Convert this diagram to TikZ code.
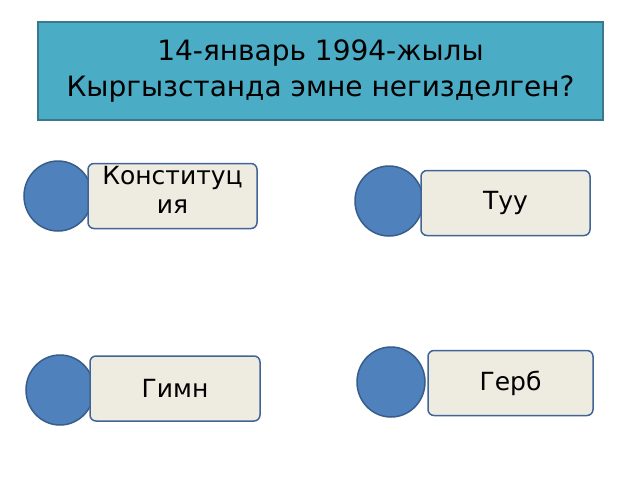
\documentclass[tikz,border=0pt]{standalone}
\usepackage{fontspec}
\setmainfont{DejaVu Sans}
\definecolor{titlefill}{RGB}{75,172,198}
\definecolor{titleline}{RGB}{60,120,140}
\definecolor{dotfill}{RGB}{79,129,189}
\definecolor{dotline}{RGB}{56,93,138}
\definecolor{boxfill}{RGB}{238,236,225}
\definecolor{boxline}{RGB}{65,100,150}
\tikzset{every picture/.style={line width=0.75pt},
  dot/.style={ellipse,draw=dotline,fill=dotfill,line width=1.5pt,minimum width=68,minimum height=70},
  answer/.style={rectangle,rounded corners=6,draw=boxline,fill=boxfill,line width=1.5pt,
    minimum width=169,minimum height=65,font=\fontsize{25}{29}\selectfont}}
\usetikzlibrary{shapes.geometric}
\begin{document}
\begin{tikzpicture}[x=1pt,y=1pt,yscale=-1,xscale=1]
	\useasboundingbox (0,0) rectangle (640,480);
	
	% Title
	\node (title) [draw=titleline,fill=titlefill,line width=1.5pt,minimum width=565,minimum height=98,
	  align=center,font=\fontsize{28}{36}\selectfont] at (320.5,71) {14-январь 1994-жылы\\Кыргызстанда эмне негизделген?};
	
	% Answers
	\node (dotA) [dot] at (58,196) {};
	\node (boxA) [answer,minimum height=65] at (172.5,196) {};
	\node [font=\fontsize{25}{29}\selectfont,align=center,anchor=north] at (boxA.north) {Конституц\\ия};
	\node (dotB) [dot] at (389,201) {};
	\node (boxB) [answer] at (505.5,203) {Туу};
	\node (dotC) [dot] at (391,382) {};
	\node (boxC) [answer,minimum width=165] at (510.5,383) {Герб};
	\node (dotD) [dot] at (60,390) {};
	\node (boxD) [answer,minimum width=170] at (175,388.5) {Гимн};
	
\end{tikzpicture}
\end{document}
